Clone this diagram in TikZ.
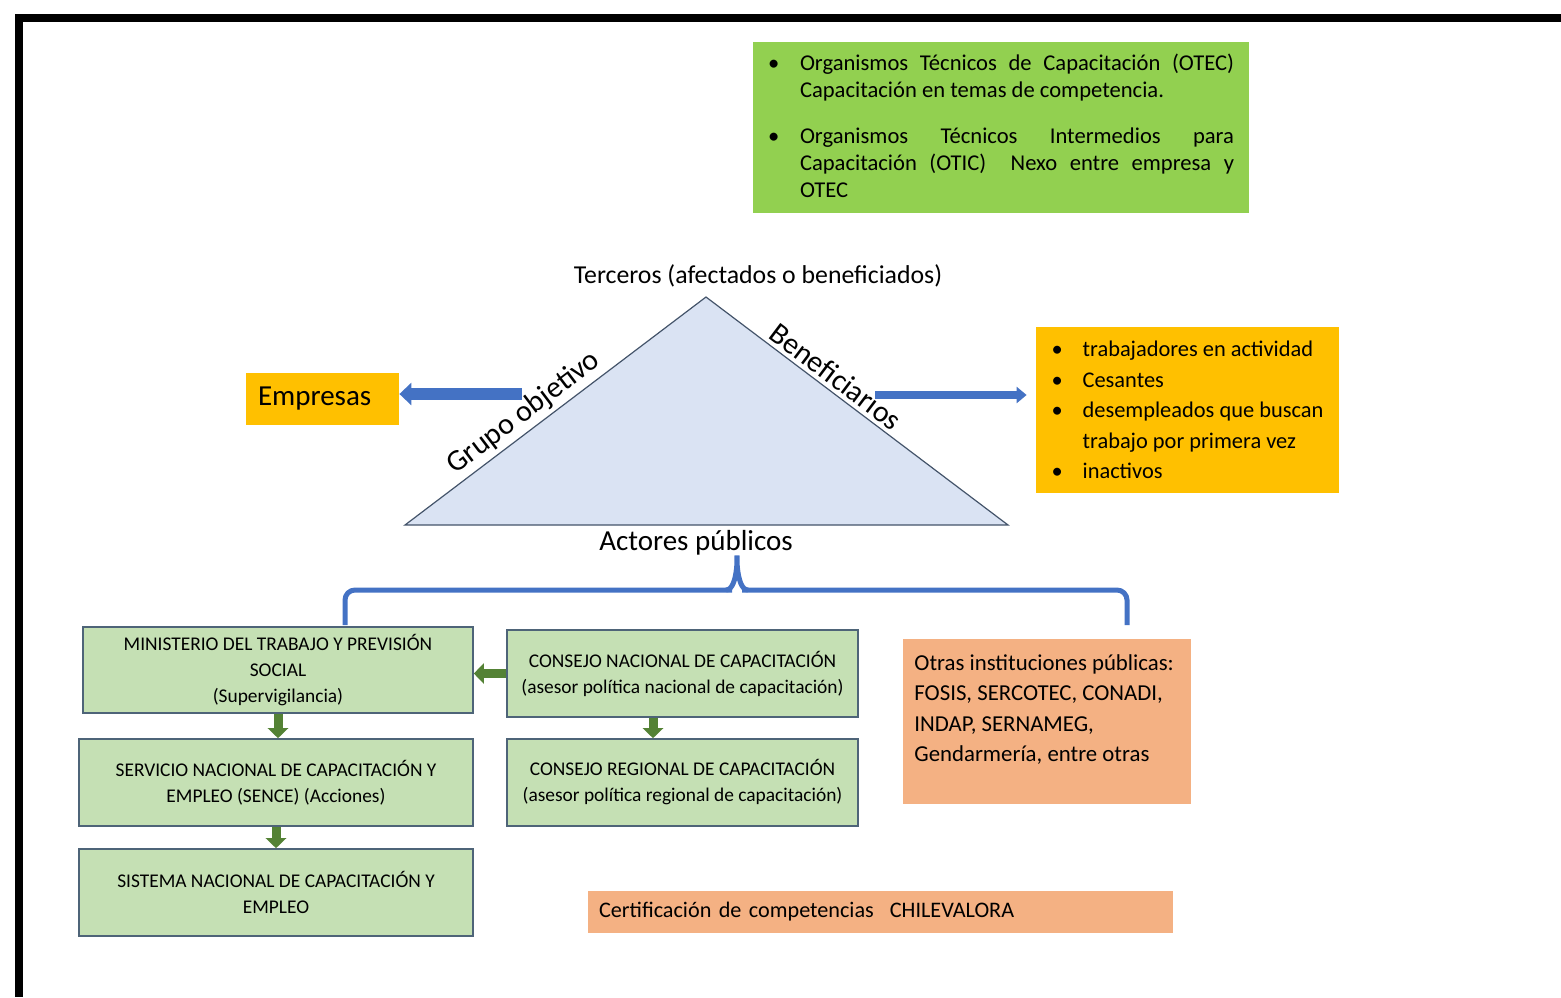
\documentclass[tikz,border=0pt]{standalone}
\usepackage{fontspec}
\setmainfont{Carlito}
\usepackage{enumitem}
\usepackage{xcolor}
\usetikzlibrary{arrows.meta}

\definecolor{otecgreen}{HTML}{92D050}
\definecolor{amber}{HTML}{FFC000}
\definecolor{peach}{HTML}{F4B183}
\definecolor{paleblue}{HTML}{DAE3F3}
\definecolor{linkblue}{HTML}{4472C4}
\definecolor{palegreen}{HTML}{C5E0B4}
\definecolor{darkgreen}{HTML}{548235}
\definecolor{boxline}{HTML}{4E6478}
\definecolor{triline}{HTML}{44546A}

\newcommand{\bul}{\makebox[15.5pt][l]{\textbullet}}

\begin{document}
\begin{tikzpicture}[x=0.5pt, y=-0.5pt,
    frame/.style={black, line width=4pt},
    otecbox/.style={fill=otecgreen, inner xsep=7.5pt, inner ysep=6pt, font=\fontsize{11.3}{13.5}\selectfont},
    amberbox/.style={fill=amber, inner sep=0pt},
    peachbox/.style={fill=peach, inner sep=0pt},
    gbox/.style={draw=boxline, fill=palegreen, line width=0.8pt, inner sep=0pt, align=center, font=\fontsize{9.7}{13}\selectfont},
    tri/.style={draw=triline, fill=paleblue, line width=0.6pt, line join=miter},
    edgelabel/.style={sloped, above, inner sep=2pt, font=\fontsize{15}{17}\selectfont},
    brace/.style={linkblue, line width=2.5pt},
    barrow/.style={linkblue, line width=6pt, -{Triangle[length=6pt, width=11pt]}},
    barrowthin/.style={linkblue, line width=4pt, -{Triangle[length=5pt, width=8pt]}},
    garrow/.style={darkgreen, line width=4.5pt, -{Triangle[length=5pt, width=10pt]}},
    ]

    \useasboundingbox (0,0) rectangle (1561,997);
    \draw[frame] (1561,17.5) -| (18.5,997);

    % upper part
    \node(otec)[otecbox] at (1001,127.5){%
      \parbox[c][73.5pt][t]{233pt}{%
      \begin{itemize}[nosep, itemsep=9.5pt, leftmargin=16pt, labelwidth=16pt, labelsep=0pt, align=left, label=\textbullet]
        \item Organismos Técnicos de Capacitación (OTEC)\linebreak Capacitación en temas de competencia.
        \item Organismos Técnicos Intermedios para\linebreak Capacitación (OTIC)\hspace{6pt} Nexo entre empresa y\linebreak OTEC
      \end{itemize}}};

    \coordinate (apex) at (706,297);
    \coordinate (tl) at (405,525);
    \coordinate (tr) at (1008,525);
    \draw[tri] (tl) -- (apex) -- (tr) -- cycle;
    \path (tl) -- (apex) node[edgelabel, pos=0.43]{Grupo objetivo};
    \path (apex) -- (tr) node[edgelabel, pos=0.40]{Beneficiarios};

    \node(terceros) at (758,276)[font=\fontsize{12.9}{15}\selectfont]{Terceros (afectados o beneficiados)};
    \node(actores) at (696,543)[font=\fontsize{14.5}{17}\selectfont]{Actores públicos};

    \node(empresas)[amberbox, text width=64.5pt, inner xsep=6pt, align=left, minimum height=26pt, font=\fontsize{14.5}{17}\selectfont] at (322.5,399){Empresas};
    \node(benef)[amberbox, minimum width=151.5pt, minimum height=83pt, align=left, font=\fontsize{11.2}{15.25}\selectfont] at (1187.5,410){%
      \bul trabajadores en actividad\\
      \bul Cesantes\\
      \bul desempleados que buscan\\
      \hspace*{15.5pt}trabajo por primera vez\\
      \bul inactivos};

    \coordinate (gstart) at (522,394);
    \coordinate (bstart) at (875,395);
    \draw[barrow] (gstart) -- (gstart -| empresas.east);
    \draw[barrowthin, shorten >=4.5pt] (bstart) -- (bstart -| benef.west);

    % lower part
    \node(min)[gbox, minimum width=195pt, minimum height=43pt] at (278,670){MINISTERIO DEL TRABAJO Y PREVISIÓN\\SOCIAL\\(Supervigilancia)};
    \node(serv)[gbox, minimum width=197pt, minimum height=43.5pt] at (276,782.5){SERVICIO NACIONAL DE CAPACITACIÓN Y\\EMPLEO (SENCE) (Acciones)};
    \node(sist)[gbox, minimum width=197pt, minimum height=43.5pt] at (276,892.5){SISTEMA NACIONAL DE CAPACITACIÓN Y\\EMPLEO};
    \node(cnac)[gbox, minimum width=175.5pt, minimum height=43.5pt] at (682.5,673.5){CONSEJO NACIONAL DE CAPACITACIÓN\\(asesor política nacional de capacitación)};
    \node(creg)[gbox, minimum width=175.5pt, minimum height=43.5pt] at (682.5,782.5){CONSEJO REGIONAL DE CAPACITACIÓN\\(asesor política regional de capacitación)};

    \node(otras)[peachbox, anchor=north west, inner xsep=5.5pt, inner ysep=7.5pt, align=left, font=\fontsize{11.4}{15.25}\selectfont] at (903,639){%
      \parbox[c][67.5pt][t]{133pt}{Otras instituciones públicas:\\FOSIS, SERCOTEC, CONADI,\\INDAP, SERNAMEG,\\Gendarmería, entre otras}};
    \node(cert)[peachbox, text width=281.5pt, inner xsep=5.5pt, minimum height=21pt, align=left, font=\fontsize{11.1}{13}\selectfont] at (880.5,912){Certificación de competencias\hspace{8pt}CHILEVALORA};

    \coordinate (bl) at (345,625);
    \coordinate (br) at (1127,625);
    \coordinate (btip) at (737,558);
    \draw[brace, rounded corners=5pt] (bl) |- (722,590) -- (728,590);
    \draw[brace] (726,590) to[out=0, in=90] (btip) to[out=90, in=180] (748,590);
    \draw[brace, rounded corners=5pt] (746,590) -- (752,590) -| (br);

    \draw[garrow] (min.south) -- (min.south |- serv.north);
    \draw[garrow] (serv.south) -- (serv.south |- sist.north);
    \draw[garrow] (cnac.west) -- (cnac.west -| min.east);
    \draw[garrow] ([xshift=-14.75pt]cnac.south) -- ([xshift=-14.75pt]creg.north);

\end{tikzpicture}
\end{document}
